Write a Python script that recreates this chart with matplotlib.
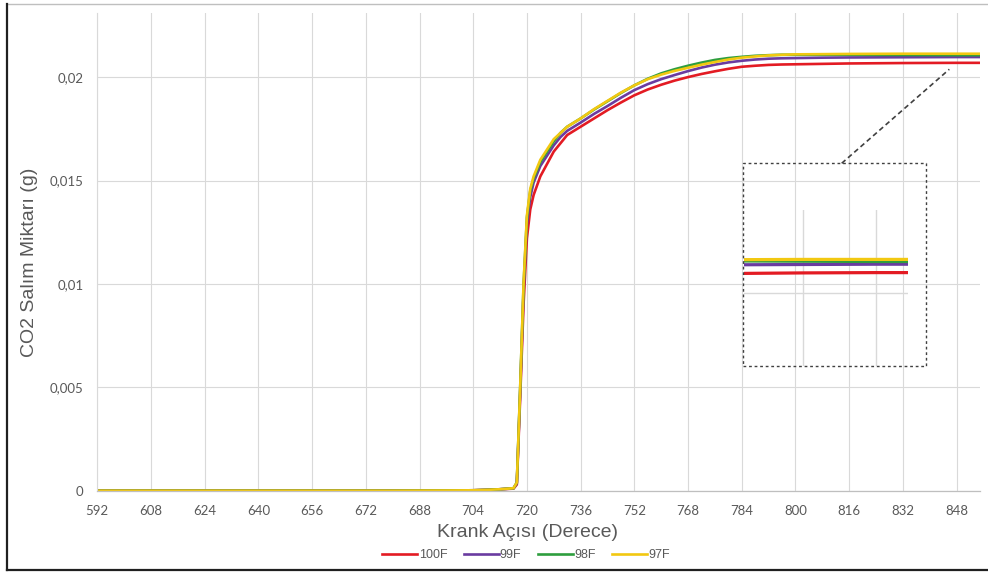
import matplotlib
matplotlib.use('Agg')
import matplotlib.pyplot as plt
from matplotlib.patches import Rectangle
from matplotlib.lines import Line2D
from matplotlib.ticker import FuncFormatter, FixedLocator

# ---------------- data ----------------
angles = [592, 600, 616, 632, 648, 664, 680, 696,
          704, 708, 712, 716,
          717, 718, 719, 720, 721, 722,
          724, 726, 728, 730, 732, 734, 736,
          740, 744, 748, 752, 756, 760, 764, 768,
          772, 776, 780, 784, 788, 792, 796, 800,
          808, 816, 832, 848, 855]

co2_100F = [0, 0, 0, 0, 0, 0, 0, 0.00001,
            0.00002, 0.00004, 0.00007, 0.0001,
            0.0003, 0.0045, 0.0090, 0.0122, 0.0136, 0.0143,
            0.0152, 0.0158, 0.0164, 0.0168, 0.0172, 0.0174, 0.0176,
            0.0180, 0.0184, 0.01877, 0.01912, 0.0194, 0.01963, 0.01983, 0.0200,
            0.02015, 0.02028, 0.0204, 0.0205, 0.02055, 0.02059, 0.02061, 0.02062,
            0.02064, 0.02066, 0.02068, 0.02069, 0.02069]

co2_99F = [0, 0, 0, 0, 0, 0, 0, 0.00001,
           0.00002, 0.00004, 0.00007, 0.00011,
           0.00035, 0.0048, 0.0096, 0.0129, 0.0142, 0.0149,
           0.0157, 0.0162, 0.0167, 0.0171, 0.0174, 0.0176, 0.0178,
           0.01822, 0.0186, 0.019, 0.01937, 0.01966, 0.0199, 0.0201, 0.02029,
           0.02046, 0.0206, 0.02071, 0.02079, 0.02085, 0.02089, 0.02091, 0.02092,
           0.02094, 0.02095, 0.02096, 0.02097, 0.02097]

co2_98F = [0, 0, 0, 0, 0, 0, 0, 0.00001,
           0.00002, 0.00004, 0.00007, 0.00012,
           0.0004, 0.0050, 0.0099, 0.0132, 0.0145, 0.0151,
           0.0159, 0.0164, 0.0169, 0.0173, 0.0176, 0.0178, 0.0180,
           0.01843, 0.01883, 0.01923, 0.0196, 0.01992, 0.02018, 0.02038, 0.02055,
           0.0207, 0.02083, 0.02092, 0.02098, 0.02103, 0.02106, 0.02108, 0.02108,
           0.02108, 0.02108, 0.02107, 0.02106, 0.02106]

co2_97F = [0, 0, 0, 0, 0, 0, 0, 0.00001,
           0.00002, 0.00004, 0.00007, 0.00012,
           0.0004, 0.0050, 0.0100, 0.0133, 0.0146, 0.0152,
           0.0160, 0.0165, 0.0170, 0.0173, 0.0176, 0.0178, 0.0180,
           0.01845, 0.01885, 0.01925, 0.0196, 0.0199, 0.02012, 0.0203, 0.02045,
           0.0206, 0.02073, 0.02085, 0.02094, 0.021, 0.02105, 0.02108, 0.0211,
           0.02111, 0.02112, 0.02113, 0.02113, 0.02113]

series_names = ['100F', '99F', '98F', '97F']
series_values = [co2_100F, co2_99F, co2_98F, co2_97F]
x_ticks = list(range(592, 849, 16))
y_ticks = [0, 0.005, 0.01, 0.015, 0.02]

colors = ['#E31B23', '#6A3BA0', '#2E9E3E', '#F2C811']

# ---------------- figure ----------------
W, H = 988, 574
fig = plt.figure(figsize=(W / 100, H / 100), dpi=100)
fig.patch.set_facecolor('white')


def fx(px):
    return px / W


def fy(py):
    return 1 - py / H


ax = fig.add_axes([fx(97.3), fy(490.7), fx(980) - fx(97.3), fy(13) - fy(490.7)])
handles = []
for name, vals, c in zip(series_names, series_values, colors):
    h, = ax.plot(angles, vals, color=c, lw=1.9, label=name, solid_joinstyle='round')
    handles.append(h)

ax.set_xlim(592, 855)
ax.set_ylim(0, 0.0231)
ax.xaxis.set_major_locator(FixedLocator(x_ticks))
ax.yaxis.set_major_locator(FixedLocator(y_ticks))
ax.yaxis.set_major_formatter(FuncFormatter(lambda v, p: f"{v:g}".replace('.', ',')))
ax.grid(True, color='#D9D9D9', lw=0.8)
ax.set_axisbelow(True)
for s in ['top', 'right']:
    ax.spines[s].set_visible(False)
ax.spines['left'].set_color('#D9D9D9')
ax.spines['left'].set_linewidth(0.8)
ax.spines['bottom'].set_color('#BFBFBF')
ax.spines['bottom'].set_linewidth(0.9)
ax.tick_params(axis='both', length=0, colors='#595959', labelsize=9.5)
ax.tick_params(axis='x', pad=10)
ax.tick_params(axis='y', pad=10)
for lab in ax.get_xticklabels() + ax.get_yticklabels():
    lab.set_fontfamily('Lato')

fig.text(fx(527), fy(532.7), 'Krank Açısı (Derece)', ha='center', va='center',
         fontsize=14, color='#595959', family='Liberation Sans')
fig.text(fx(30), fy(262), 'CO2 Salım Miktarı (g)', ha='center', va='center',
         rotation=90, fontsize=14, color='#595959', family='Liberation Sans')

leg = fig.legend(handles=handles, labels=series_names, loc='center',
                 bbox_to_anchor=(fx(526), fy(555)), ncol=4, frameon=False,
                 handlelength=2.8, handletextpad=0.1, columnspacing=1.3,
                 prop={'family': 'Liberation Sans', 'size': 9})
for t in leg.get_texts():
    t.set_color('#595959')

# ---------------- zoom inset ----------------
axi = fig.add_axes([fx(744), fy(365.7), fx(908) - fx(744), fy(210) - fy(365.7)])
for vals, c in zip(series_values, colors):
    axi.plot(angles, vals, color=c, lw=2.3)
axi.set_xlim(819.1, 855.1)
axi.set_ylim(0.017587, 0.022777)
axi.xaxis.set_major_locator(FixedLocator([832, 848]))
axi.yaxis.set_major_locator(FixedLocator([0.02]))
axi.grid(True, color='#D9D9D9', lw=1.0)
axi.set_axisbelow(True)
axi.tick_params(length=0, labelleft=False, labelbottom=False)
for s in axi.spines.values():
    s.set_visible(False)
axi.patch.set_alpha(0)

box = Rectangle((fx(742.7), fy(365.7)), fx(926) - fx(742.7), fy(163.3) - fy(365.7),
                transform=fig.transFigure, fill=False, ec='#404040', lw=1.0,
                ls=(0, (2, 2)))
fig.add_artist(box)
fig.add_artist(Line2D([fx(841.7), fx(949.3)], [fy(163.3), fy(69.3)],
                      transform=fig.transFigure, color='#404040', lw=1.2,
                      ls=(0, (3, 2))))

# ---------------- outer frame ----------------
fig.add_artist(Line2D([fx(7), fx(988)], [fy(4), fy(4)], transform=fig.transFigure,
                      color='#BFBFBF', lw=1.0))
fig.add_artist(Line2D([fx(7), fx(7)], [fy(4), fy(570)], transform=fig.transFigure,
                      color='#202020', lw=1.6))
fig.add_artist(Line2D([fx(7), fx(988)], [fy(570), fy(570)], transform=fig.transFigure,
                      color='#202020', lw=1.6))

fig.savefig('out.png', dpi=100)
